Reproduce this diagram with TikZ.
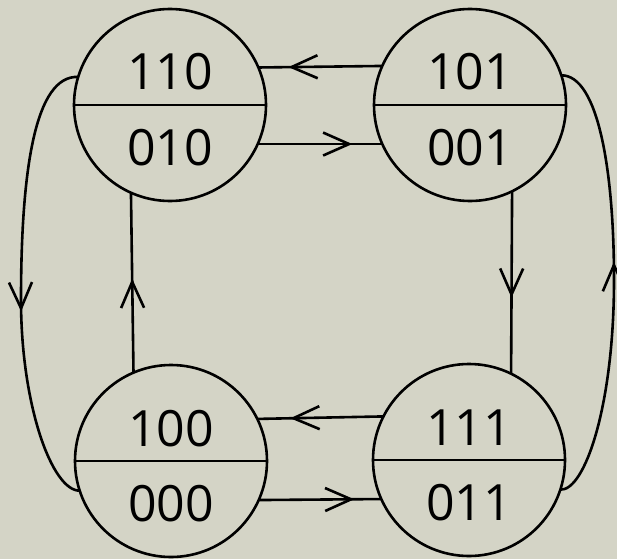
\documentclass[tikz,border=0pt]{standalone}
\usepackage{fontspec}
\setmainfont{Open Sans}
\usetikzlibrary{arrows.meta,decorations.markings}
\definecolor{bg}{RGB}{212,212,198}
\tikzset{
  >={Straight Barb[length=26pt,width=23pt]},
  state/.style={circle,draw,minimum size=192pt,inner sep=0pt,outer sep=0pt},
  lbl/.style={anchor=base,inner sep=0pt,font=\fontsize{50}{60}\selectfont},
  arrowat/.style={postaction={decorate},decoration={markings,mark=at position #1 with {\arrow{>}}}}
}
\begin{document}
\begin{tikzpicture}[x=1pt,y=-1pt,line width=2.6pt]
\fill[bg] (0,0) rectangle (617,559);
\useasboundingbox (0,0) rectangle (617,559);
% states
\node[state] (tl) at (170,105) {};
\node[state] (tr) at (470,105) {};
\node[state] (bl) at (171,461) {};
\node[state] (br) at (469,460) {};
\foreach \s in {tl,tr,bl,br} \draw (\s.west) -- (\s.east);
% labels
\node[lbl] (tlu) at (170,89) {110};
\node[lbl] (tld) at (170,165) {010};
\node[lbl] (tru) at (470,89) {101};
\node[lbl] (trd) at (470,165) {001};
\node[lbl] (blu) at (171,446) {100};
\node[lbl] (bld) at (171,521) {000};
\node[lbl] (bru) at (469,445) {111};
\node[lbl] (brd) at (469,520) {011};
% horizontal connectors
\draw[arrowat=-30pt] (tr.156.7) -- (tl.23.3);
\draw[arrowat=-30pt] (tl.-24.6) -- (tr.204.6);
\draw[arrowat=-33pt] (br.153.4) -- (bl.26.6);
\draw[arrowat=-27pt] (bl.-24) -- (br.204);
% vertical connectors
\draw[arrowat=-86pt] (bl.113.3) -- (tl.246.7);
\draw[arrowat=-76pt] (tr.-64.7) -- (br.64.7);
% outer curves
\draw[arrowat=256pt] (tl.163) .. controls (35,75) and (21,170) .. (21,300)
   .. controls (21,405) and (52,491) .. (bl.198);
\draw[arrowat=243pt] (br.342) .. controls (585,491) and (614,405) .. (614,280)
   .. controls (614,170) and (598,75) .. (tr.18);
\end{tikzpicture}
\end{document}
